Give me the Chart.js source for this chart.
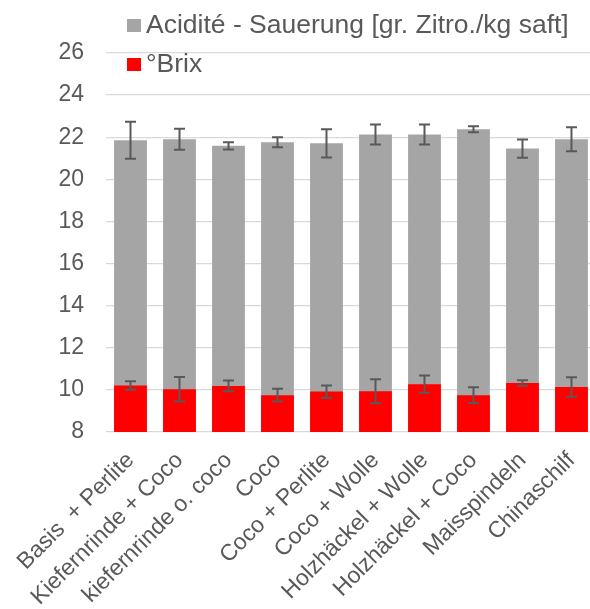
<!DOCTYPE html>
<html>
<head>
<meta charset="utf-8">
<script src="https://cdn.jsdelivr.net/npm/chart.js@4.4.1/dist/chart.umd.min.js"></script>
<style>
  html, body { margin: 0; padding: 0; background: #ffffff; overflow: hidden; width: 590px; height: 609px; }
  #c { position: absolute; left: 0; top: 0; }
  .leg { position: absolute; font-family: "Liberation Sans", Arial, sans-serif; font-size: 26.5px; line-height: 30px; color: #595959; white-space: nowrap; }
  .box { position: absolute; width: 14px; height: 13px; }
</style>
</head>
<body>
<canvas id="c" width="598" height="609" style="width:598px;height:609px;"></canvas>
<div class="box" style="left:127px; top:19px; background:#a5a5a5;"></div>
<div class="leg" style="left:146px; top:9px;">Acidité - Sauerung [gr. Zitro./kg saft]</div>
<div class="box" style="left:127px; top:58px; background:#ff0000;"></div>
<div class="leg" style="left:146px; top:48px;">°Brix</div>
<script>
const categories = ["Basis  + Perlite", "Kiefernrinde + Coco", "kiefernrinde o. coco", "Coco", "Coco + Perlite", "Coco + Wolle", "Holzhäckel + Wolle", "Holzhäckel + Coco", "Maisspindeln", "Chinaschilf"];
const acidity = [21.86, 21.90, 21.59, 21.76, 21.71, 22.13, 22.13, 22.38, 21.46, 21.90];
const acidityErr = [0.88, 0.50, 0.17, 0.24, 0.67, 0.47, 0.47, 0.14, 0.43, 0.57];
const brix = [10.21, 10.03, 10.19, 9.75, 9.92, 9.94, 10.27, 9.75, 10.33, 10.14];
const brixErr = [0.20, 0.58, 0.26, 0.30, 0.29, 0.57, 0.41, 0.37, 0.13, 0.46];
const yTicks = [8, 10, 12, 14, 16, 18, 20, 22, 24, 26];

const errorBars = {
  id: 'errorBars',
  afterDatasetsDraw(chart) {
    const ctx = chart.ctx;
    const y = chart.scales.y;
    ctx.save();
    ctx.strokeStyle = '#595959';
    ctx.lineWidth = 2;
    chart.data.datasets.forEach((ds, i) => {
      const meta = chart.getDatasetMeta(i);
      meta.data.forEach((bar, j) => {
        const v = ds.data[j], e = ds.errors[j];
        const yt = y.getPixelForValue(v + e), yb = y.getPixelForValue(v - e);
        const x = bar.x, cw = 5.5;
        ctx.beginPath();
        ctx.moveTo(x, yt); ctx.lineTo(x, yb);
        ctx.moveTo(x - cw, yt); ctx.lineTo(x + cw, yt);
        ctx.moveTo(x - cw, yb); ctx.lineTo(x + cw, yb);
        ctx.stroke();
      });
    });
    ctx.restore();
  }
};

new Chart(document.getElementById('c'), {
  type: 'bar',
  data: {
    labels: categories,
    datasets: [
      { label: '°Brix', data: brix, errors: brixErr, backgroundColor: '#ff0000', order: 0 },
      { label: 'Acidité - Sauerung [gr. Zitro./kg saft]', data: acidity, errors: acidityErr, backgroundColor: '#a5a5a5', order: 1 }
    ]
  },
  options: {
    responsive: false,
    animation: false,
    devicePixelRatio: 1,
    layout: { padding: { top: 53, left: 0, right: 0, bottom: 0 } },
    datasets: { bar: { barPercentage: 0.67, categoryPercentage: 1.0 } },
    plugins: { legend: { display: false }, tooltip: { enabled: false } },
    scales: {
      x: {
        stacked: true,
        grid: { display: false },
        border: { display: false },
        ticks: {
          autoSkip: false, maxRotation: 45, minRotation: 45, padding: 7,
          color: '#595959', font: { family: '"Liberation Sans", Arial, sans-serif', size: 23 }
        },
        afterFit(scale) { scale.height = 177; }
      },
      y: {
        stacked: false,
        min: 8, max: 26,
        afterBuildTicks(scale) { scale.ticks = yTicks.map(v => ({ value: v })); },
        grid: { color: '#d9d9d9', lineWidth: 1.3, drawTicks: false },
        border: { display: false },
        ticks: {
          padding: 22, color: '#595959',
          font: { family: '"Liberation Sans", Arial, sans-serif', size: 23 }
        },
        afterFit(scale) { scale.width = 106; }
      }
    }
  },
  plugins: [errorBars]
});
</script>
</body>
</html>
